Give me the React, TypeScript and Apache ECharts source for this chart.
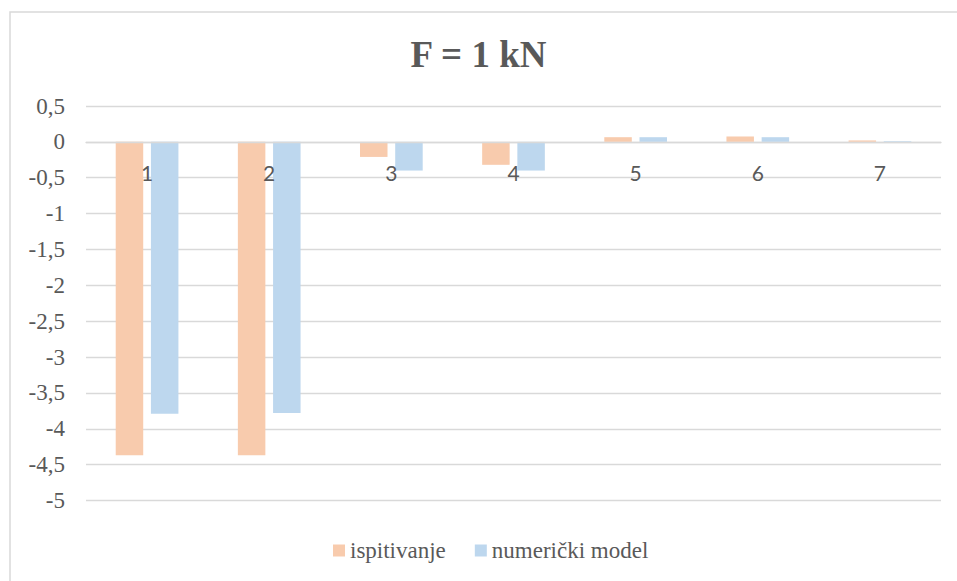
import React, { useEffect, useRef } from "react";
import * as echarts from "echarts";

const categories = ["1", "2", "3", "4", "5", "6", "7"];
const ispitivanje = [-4.37, -4.37, -0.21, -0.32, 0.065, 0.075, 0.02];
const numerickiModel = [-3.79, -3.78, -0.4, -0.4, 0.065, 0.065, 0.01];
const seriesNames = ["ispitivanje", "numerički model"];
const titleText = "F = 1 kN";

const Y_MIN = -5;
const Y_MAX = 0.5;
const GRID_TOP = 106;
const GRID_BOTTOM = 80.5;
const CHART_H = 581;

export default function App() {
  const ref = useRef<HTMLDivElement>(null);
  useEffect(() => {
    if (!ref.current) return;
    const chart = echarts.init(ref.current, null, { renderer: "svg" });
    const serif = "Liberation Serif";
    const gridH = CHART_H - GRID_TOP - GRID_BOTTOM;
    const zeroOffset = -(gridH * (0 - Y_MIN)) / (Y_MAX - Y_MIN);
    chart.setOption({
      animation: false,
      backgroundColor: "#ffffff",
      title: {
        text: titleText,
        left: "center",
        top: 31,
        textStyle: {
          fontFamily: serif,
          fontWeight: "bold",
          fontSize: 37,
          color: "#595959",
        },
      },
      graphic: [
        {
          type: "rect",
          shape: { x: 10, y: 12, width: 1000, height: 1000 },
          style: { fill: "none", stroke: "#d9d9d9", lineWidth: 1.5 },
          silent: true,
        },
      ],
      legend: {
        data: seriesNames,
        left: 328,
        top: 534,
        itemWidth: 12,
        itemHeight: 12,
        itemGap: 29,
        itemTextGap: 6,
        icon: "rect",
        textStyle: { fontFamily: serif, fontSize: 23, color: "#595959" },
      },
      grid: { left: 86, right: 16, top: GRID_TOP, bottom: GRID_BOTTOM, containLabel: false },
      xAxis: {
        type: "category",
        data: categories,
        position: "bottom",
        offset: zeroOffset,
        axisTick: { show: false },
        axisLine: { onZero: false, lineStyle: { color: "#d9d9d9", width: 1.3 } },
        axisLabel: {
          margin: 20,
          fontFamily: "Lato",
          fontSize: 21,
          color: "#595959",
        },
        splitLine: { show: false },
        z: 10,
      },
      yAxis: {
        type: "value",
        min: Y_MIN,
        max: Y_MAX,
        interval: 0.5,
        axisLine: { show: false },
        axisTick: { show: false },
        splitLine: { lineStyle: { color: "#d9d9d9", width: 1.3 } },
        axisLabel: {
          margin: 21,
          fontFamily: serif,
          fontSize: 23,
          color: "#595959",
          formatter: (v: number) => String(v).replace(".", ","),
        },
      },
      series: [
        {
          name: seriesNames[0],
          type: "bar",
          data: ispitivanje,
          barWidth: 27.5,
          barGap: "28%",
          itemStyle: { color: "#F8CBAD" },
        },
        {
          name: seriesNames[1],
          type: "bar",
          data: numerickiModel,
          barWidth: 27.5,
          barGap: "28%",
          itemStyle: { color: "#BDD7EE" },
        },
      ],
    });
    return () => chart.dispose();
  }, []);
  return (
    <div
      ref={ref}
      style={{ position: "absolute", left: 0, top: 0, width: 957, height: 581 }}
    />
  );
}
